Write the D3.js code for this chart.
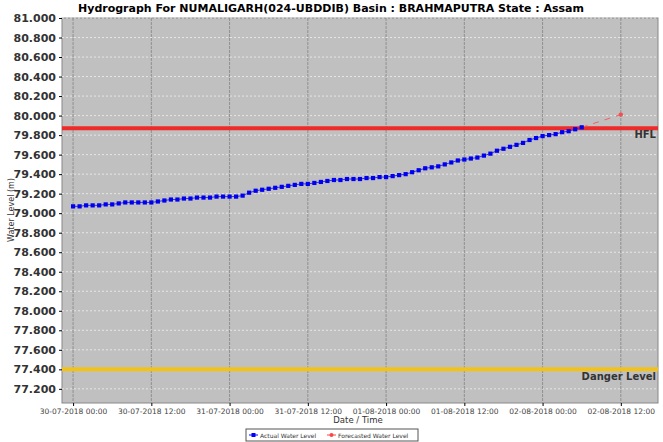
<!DOCTYPE html>
<html><head><meta charset="utf-8">
<script src="https://cdn.jsdelivr.net/npm/d3@7"></script>
<style>body{margin:0;background:#fff;font-family:"DejaVu Sans",sans-serif}</style>
</head><body><svg id="c" width="663" height="442"></svg>
<script>
const title = 'Hydrograph For NUMALIGARH(024-UBDDIB) Basin : BRAHMAPUTRA State : Assam'
const start = new Date(2018, 6, 30, 0, 0)
// hourly actual levels from 30-07-2018 00:00
const actual = [79.07,79.07,79.08,79.08,79.08,79.09,79.09,79.10,79.11,79.11,79.11,79.11,79.11,
  79.12,79.13,79.14,79.14,79.15,79.15,79.16,79.16,79.16,79.17,79.17,79.17,
  79.17,79.18,79.21,79.23,79.24,79.25,79.26,79.27,79.28,79.29,79.30,79.30,
  79.31,79.32,79.33,79.34,79.34,79.35,79.35,79.35,79.36,79.36,79.37,79.37,
  79.38,79.39,79.40,79.42,79.44,79.46,79.47,79.48,79.50,79.52,79.54,79.55,
  79.56,79.57,79.59,79.61,79.64,79.66,79.68,79.70,79.72,79.75,79.77,79.79,
  79.80,79.81,79.83,79.84,79.86,79.88]
const forecastHours = [78, 84]
const forecast = [79.88, 80.01]
const hfl = 79.87
const danger = 77.40
const xTicks = ['30-07-2018 00:00','30-07-2018 12:00','31-07-2018 00:00','31-07-2018 12:00','01-08-2018 00:00','01-08-2018 12:00','02-08-2018 00:00','02-08-2018 12:00']

const hr = h => new Date(start.getTime() + h * 3600e3)
const svg = d3.select('#c')
const m = {left: 62, right: 5, top: 18, bottom: 39}
const W = 663 - m.left - m.right, H = 442 - m.top - m.bottom
const x = d3.scaleTime().domain([hr(-1.7), hr(89.7)]).range([0, W])
const y = d3.scaleLinear().domain([77.055, 81]).range([H, 0])
const g = svg.append('g').attr('transform', `translate(${m.left},${m.top})`)

svg.append('text').attr('x', 331).attr('y', 12).attr('text-anchor', 'middle')
  .attr('font-size', 11).attr('font-weight', 'bold').text(title)

g.append('rect').attr('width', W).attr('height', H).attr('fill', '#c0c0c0').attr('stroke', '#888')

const yTicks = d3.range(77.2, 81.001, 0.2)
g.selectAll('.hg').data(yTicks).enter().append('line')
  .attr('x1', 0).attr('x2', W).attr('y1', d => y(d)).attr('y2', d => y(d))
  .attr('stroke', '#e6e6e6').attr('stroke-dasharray', '2,2')
const xt = xTicks.map((t, i) => hr(i * 12))
g.selectAll('.vg').data(xt).enter().append('line')
  .attr('y1', 0).attr('y2', H).attr('x1', d => x(d)).attr('x2', d => x(d))
  .attr('stroke', '#909090').attr('stroke-dasharray', '3,1')

const ya = g.append('g').call(d3.axisLeft(y).tickValues(yTicks).tickFormat(d3.format('.3f')).tickSize(3))
ya.select('.domain').remove()
ya.selectAll('text').attr('font-size', 11).attr('font-weight', 'bold').attr('fill', '#333').attr('font-family', 'DejaVu Sans')
const xa = g.append('g').attr('transform', `translate(0,${H})`)
  .call(d3.axisBottom(x).tickValues(xt).tickFormat((d, i) => xTicks[i]).tickSize(3))
xa.select('.domain').remove()
xa.selectAll('text').attr('font-size', 7.5).attr('fill', '#444').attr('font-family', 'DejaVu Sans')

svg.append('text').attr('x', 358).attr('y', 423).attr('text-anchor', 'middle').attr('font-size', 8.5).attr('fill', '#333').text('Date / Time')
svg.append('text').attr('transform', 'translate(14,210) rotate(-90)').attr('text-anchor', 'middle').attr('font-size', 8).attr('fill', '#333').text('Water Level (m)')

g.append('line').attr('x1', 0).attr('x2', W).attr('y1', y(hfl)).attr('y2', y(hfl)).attr('stroke', '#ee2a2a').attr('stroke-width', 4)
g.append('line').attr('x1', 0).attr('x2', W).attr('y1', y(danger)).attr('y2', y(danger)).attr('stroke', '#f3c21a').attr('stroke-width', 4)
g.append('text').attr('x', W - 2).attr('y', y(hfl) + 10).attr('text-anchor', 'end').attr('font-size', 10).attr('font-weight', 'bold').attr('fill', '#333').text('HFL')
g.append('text').attr('x', W - 2).attr('y', y(danger) + 11).attr('text-anchor', 'end').attr('font-size', 10).attr('font-weight', 'bold').attr('fill', '#333').text('Danger Level')

const fl = forecastHours.map((h, i) => [hr(h), forecast[i]])
g.append('path').datum(fl).attr('fill', 'none').attr('stroke', '#f06060').attr('stroke-dasharray', '6,6')
  .attr('d', d3.line().x(d => x(d[0])).y(d => y(d[1])))
g.append('circle').attr('cx', x(fl[1][0])).attr('cy', y(fl[1][1])).attr('r', 2.2).attr('fill', '#f05050')

const al = actual.map((v, i) => [hr(i), v])
g.append('path').datum(al).attr('fill', 'none').attr('stroke', '#3030ff').attr('stroke-width', 1)
  .attr('d', d3.line().x(d => x(d[0])).y(d => y(d[1])))
g.selectAll('.pt').data(al).enter().append('rect')
  .attr('x', d => x(d[0]) - 2.1).attr('y', d => y(d[1]) - 2.1).attr('width', 4.2).attr('height', 4.2).attr('fill', '#0000ee')

const lg = svg.append('g').attr('transform', 'translate(246,429)')
lg.append('rect').attr('width', 172).attr('height', 12).attr('fill', '#fff').attr('stroke', '#555')
lg.append('line').attr('x1', 3).attr('x2', 12).attr('y1', 6).attr('y2', 6).attr('stroke', '#00f')
lg.append('rect').attr('x', 5.5).attr('y', 4).attr('width', 4).attr('height', 4).attr('fill', '#00f')
lg.append('text').attr('x', 14).attr('y', 8.5).attr('font-size', 6).attr('fill', '#333').text('Actual Water Level')
lg.append('line').attr('x1', 81).attr('x2', 90).attr('y1', 6).attr('y2', 6).attr('stroke', '#f44')
lg.append('circle').attr('cx', 85.5).attr('cy', 6).attr('r', 2).attr('fill', '#f44')
lg.append('text').attr('x', 92).attr('y', 8.5).attr('font-size', 6).attr('fill', '#333').text('Forecasted Water Level')
</script></body></html>
